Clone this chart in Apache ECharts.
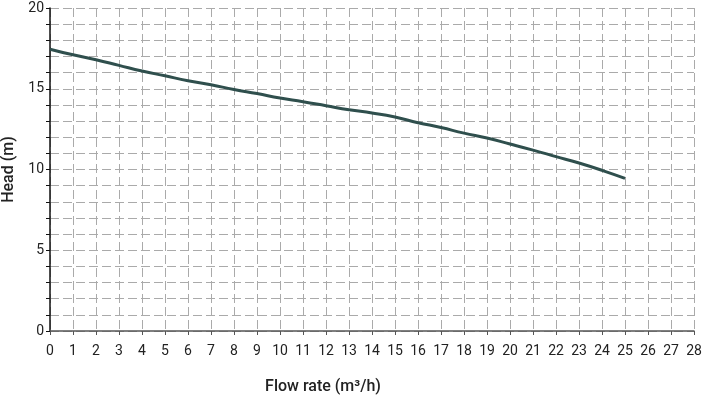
<!DOCTYPE html>
<html>
<head>
<meta charset="utf-8">
<script src="https://cdn.jsdelivr.net/npm/echarts@6/dist/echarts.min.js"></script>
<style>
  html, body { margin: 0; padding: 0; background: #fff; }
  #main { width: 705px; height: 398px; }
</style>
</head>
<body>
<div id="main"></div>
<script>
// pump curve data
var flow = [0, 1, 2, 3, 4, 5, 6, 7, 8, 9, 10, 11, 12, 13, 14, 15, 16, 17, 18, 19, 20, 21, 22, 23, 24, 25];
var head = [17.45, 17.1, 16.8, 16.45, 16.1, 15.8, 15.5, 15.25, 14.95, 14.7, 14.43, 14.2, 13.95, 13.7, 13.5, 13.25,
            12.9, 12.6, 12.25, 11.95, 11.58, 11.2, 10.8, 10.4, 9.95, 9.45];
var yLabels = [0, 5, 10, 15, 20];

var myChart = echarts.init(document.getElementById('main'));

var points = flow.map(function (f, i) { return [f, head[i]]; });

var option = {
    animation: false,
    backgroundColor: '#fff',
    grid: { left: 50, right: 11, top: 8, bottom: 67, outerBoundsMode: 'none', containLabel: false },
    xAxis: {
        type: 'value',
        min: 0, max: 28, interval: 1,
        name: 'Flow rate (m³/h)',
        nameLocation: 'middle',
        nameGap: 48,
        nameTextStyle: { fontFamily: 'Roboto', fontSize: 16, fontWeight: 500, color: '#222', padding: [0, 98, 0, 0] },
        axisLine: { lineStyle: { color: '#555', width: 1.5 } },
        axisTick: { show: true, length: 4, lineStyle: { color: '#555' } },
        axisLabel: { fontFamily: 'Roboto', fontSize: 14, color: '#222', margin: 13 },
        splitLine: { show: true, lineStyle: { color: '#aaa', type: [9, 4], width: 1 } }
    },
    yAxis: {
        type: 'value',
        min: 0, max: 20, interval: 1,
        name: 'Head (m)',
        nameLocation: 'middle',
        nameGap: 32,
        nameRotate: 90,
        nameTextStyle: { fontFamily: 'Roboto', fontSize: 16, fontWeight: 500, color: '#222' },
        axisLine: { show: true, lineStyle: { color: '#111', width: 1.5 } },
        axisTick: { show: true, length: 4, lineStyle: { color: '#111' } },
        axisLabel: {
            fontFamily: 'Roboto', fontSize: 14, color: '#222', margin: 6,
            formatter: function (v) { return yLabels.indexOf(v) >= 0 ? String(v) : ''; }
        },
        splitLine: { show: true, lineStyle: { color: '#aaa', type: [9, 4], width: 1 } }
    },
    series: [{
        type: 'line',
        data: points,
        smooth: true,
        showSymbol: false,
        lineStyle: { color: '#2f4f4d', width: 3 }
    }]
};

myChart.setOption(option);
</script>
</body>
</html>
